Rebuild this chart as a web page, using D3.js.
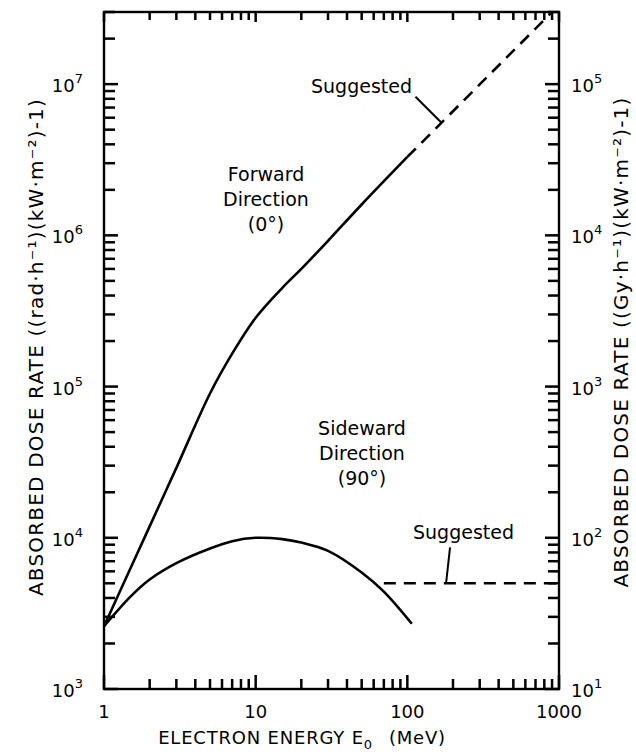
<!DOCTYPE html>
<html>
<head>
<meta charset="utf-8">
<script src="https://cdn.jsdelivr.net/npm/d3@7"></script>
<style>
  html, body { margin: 0; padding: 0; background: #fff; }
  svg { display: block; font-family: "DejaVu Sans", sans-serif; }
  .frame { fill: none; stroke: #000; stroke-width: 2.4; }
  .curve { fill: none; stroke: #000; stroke-width: 2.6; }
  .dashed { stroke-dasharray: 12 8; }
  .lbl { font-size: 18px; fill: #000; }
  .note { font-size: 19px; fill: #000; }
  .title { font-size: 20px; fill: #000; letter-spacing: 1.2px; }
  .xtitle { font-size: 18px; fill: #000; letter-spacing: 0.8px; }
</style>
</head>
<body>
<svg id="chart" width="636" height="756"></svg>
<script>
// ── DATA ────────────────────────────────────────────────────────────────
const forwardEnergy = [1, 2, 3, 5, 7, 10, 15, 20, 30, 50, 100];
const forwardDose   = [2.6e3, 1.19e4, 2.9e4, 9.0e4, 1.65e5, 2.85e5, 4.5e5, 6.0e5, 9.2e5, 1.6e6, 3.3e6];
const forwardSuggestedEnergy = [100, 900];
const forwardSuggestedDose   = [3.3e6, 3.0e7];

const sideEnergy = [1, 1.5, 2, 3, 5, 7, 10, 15, 20, 30, 50, 70, 107];
const sideDose   = [2.6e3, 4.1e3, 5.3e3, 6.8e3, 8.5e3, 9.5e3, 1.0e4, 9.8e3, 9.3e3, 8.2e3, 5.9e3, 4.4e3, 2.7e3];
const sideSuggestedEnergy = [70, 1000];
const sideSuggestedDose   = [5e3, 5e3];

const xMajor = [1, 10, 100, 1000];
const xMajorLabels = ['1', '10', '100', '1000'];
const yLeftExp = [3, 4, 5, 6, 7];
const yRightExp = [1, 2, 3, 4, 5];

// ── CHART SETUP ─────────────────────────────────────────────────────────
const W = 636, H = 756;
const margin = { top: 12, right: 77, bottom: 67, left: 104 };
const iW = W - margin.left - margin.right;
const iH = H - margin.top - margin.bottom;

const svg = d3.select('#chart');
const g = svg.append('g').attr('transform', `translate(${margin.left},${margin.top})`);

const x = d3.scaleLog().domain([1, 1000]).range([0, iW]);
const y = d3.scaleLog().domain([1e3, 3e7]).range([iH, 0]);
const yR = d3.scaleLog().domain([1e1, 3e5]).range([iH, 0]);

const isMajor = v => Math.abs(Math.log10(v) - Math.round(Math.log10(v))) < 1e-9;

// inward ticks on all four sides
function ticks(data, fn) {
  g.append('g').selectAll('line')
    .data(data)
    .join('line')
    .attr('stroke', '#000').attr('stroke-width', 2.5)
    .each(function(d) { fn(d3.select(this), d); });
}
ticks(x.ticks(), (s, d) => s.attr('x1', x(d)).attr('x2', x(d)).attr('y1', iH).attr('y2', iH - (isMajor(d) ? 14 : 10)));
ticks(x.ticks(), (s, d) => s.attr('x1', x(d)).attr('x2', x(d)).attr('y1', 0).attr('y2', isMajor(d) ? 10 : 8));
ticks(y.ticks(), (s, d) => s.attr('y1', y(d)).attr('y2', y(d)).attr('x1', 0).attr('x2', isMajor(d) ? 14 : 11));
ticks(yR.ticks(), (s, d) => s.attr('y1', yR(d)).attr('y2', yR(d)).attr('x1', iW).attr('x2', iW - (isMajor(d) ? 14 : 11)));

g.append('rect').attr('class', 'frame').attr('width', iW).attr('height', iH);

// x labels
g.append('g').selectAll('text')
  .data(xMajor)
  .join('text').attr('class', 'lbl')
  .attr('x', d => x(d)).attr('y', iH + 29)
  .attr('text-anchor', 'middle')
  .text((d, i) => xMajorLabels[i]);

// y labels with superscripts
function powLabel(sel) {
  sel.append('tspan').text('10');
  sel.append('tspan').attr('dy', -9).attr('font-size', 13).text(d => d);
}
g.append('g').selectAll('text')
  .data(yLeftExp)
  .join('text').attr('class', 'lbl')
  .attr('x', -21).attr('y', d => y(Math.pow(10, d)) + 8)
  .attr('text-anchor', 'end')
  .call(powLabel);

g.append('g').selectAll('text')
  .data(yRightExp)
  .join('text').attr('class', 'lbl')
  .attr('x', iW + 12).attr('y', d => yR(Math.pow(10, d)) + 8)
  .call(powLabel);

// axis titles
const xTitle = svg.append('text').attr('class', 'xtitle')
  .attr('x', 302).attr('y', 744).attr('text-anchor', 'middle');
xTitle.append('tspan').text('ELECTRON ENERGY E');
xTitle.append('tspan').attr('dy', 5).attr('font-size', 13).text('0');
xTitle.append('tspan').attr('dy', -5).attr('dx', 16).text('(MeV)');

svg.append('text').attr('class', 'title')
  .attr('transform', 'translate(43,347) rotate(-90)')
  .attr('text-anchor', 'middle')
  .text('ABSORBED  DOSE  RATE  ((rad·h⁻¹)(kW·m⁻²)-1)');

svg.append('text').attr('class', 'title')
  .attr('transform', 'translate(628,342) rotate(-90)')
  .attr('text-anchor', 'middle')
  .text('ABSORBED  DOSE  RATE  ((Gy·h⁻¹)(kW·m⁻²)-1)');

// ── CURVES ──────────────────────────────────────────────────────────────
const line = d3.line().x(d => x(d[0])).y(d => y(d[1])).curve(d3.curveCatmullRom.alpha(0.5));
const pairs = (xs, ys) => xs.map((v, i) => [v, ys[i]]);

g.append('path').attr('class', 'curve').attr('d', line(pairs(forwardEnergy, forwardDose)));
g.append('path').attr('class', 'curve').attr('d', line(pairs(sideEnergy, sideDose)));
g.append('path').attr('class', 'curve dashed').attr('d', line(pairs(forwardSuggestedEnergy, forwardSuggestedDose)));
g.append('path').attr('class', 'curve dashed').attr('d', line(pairs(sideSuggestedEnergy, sideSuggestedDose)));

// ── ANNOTATIONS ─────────────────────────────────────────────────────────
function block(lines, cx, y0, dy) {
  const t = g.append('text').attr('class', 'note').attr('text-anchor', 'middle');
  lines.forEach((s, i) => t.append('tspan').attr('x', cx - margin.left).attr('y', y0 - margin.top + i * dy).text(s));
}
block(['Forward', 'Direction', '(0°)'], 266, 181, 25);
block(['Sideward', 'Direction', '(90°)'], 362, 435, 25);

g.append('text').attr('class', 'note')
  .attr('x', 311 - margin.left).attr('y', 93 - margin.top).text('Suggested');
g.append('text').attr('class', 'note')
  .attr('x', 413 - margin.left).attr('y', 539 - margin.top).text('Suggested');

// leader lines, anchored on the dashed curves
const e1 = 168;
const d1 = forwardSuggestedDose[0] * Math.pow(e1 / forwardSuggestedEnergy[0],
  Math.log(forwardSuggestedDose[1] / forwardSuggestedDose[0]) / Math.log(forwardSuggestedEnergy[1] / forwardSuggestedEnergy[0]));
g.append('line').attr('stroke', '#000').attr('stroke-width', 2)
  .attr('x1', x(e1) - 26).attr('y1', y(d1) - 26)
  .attr('x2', x(e1)).attr('y2', y(d1));

const e2 = 180;
g.append('line').attr('stroke', '#000').attr('stroke-width', 2)
  .attr('x1', x(e2) + 4).attr('y1', y(sideSuggestedDose[0]) - 36)
  .attr('x2', x(e2)).attr('y2', y(sideSuggestedDose[0]));
</script>
</body>
</html>
